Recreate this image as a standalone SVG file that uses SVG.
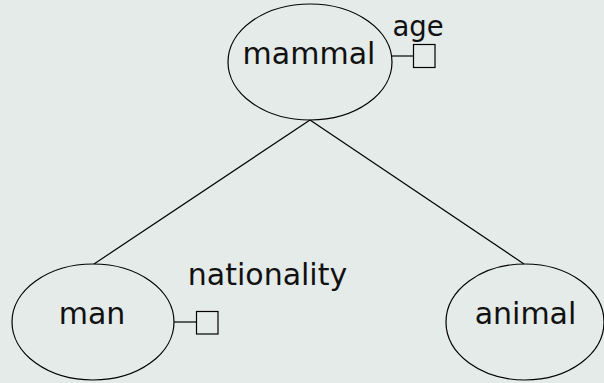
<svg xmlns="http://www.w3.org/2000/svg" width="604" height="383" viewBox="0 0 604 383">
<style>
.n{fill:none;stroke:#000;stroke-width:1.2}
.t{font-family:"DejaVu Sans",sans-serif;font-size:30px;fill:#111;text-anchor:middle}
.b{fill:none;stroke:#000;stroke-width:1.2}
</style>
<rect width="604" height="383" fill="#e4ebe8"/>
<g id="connectors">
<line class="n" x1="310" y1="120" x2="94" y2="264"/>
<line class="n" x1="310" y1="120" x2="524" y2="264"/>
<line class="n" x1="391" y1="56" x2="413" y2="56"/>
<line class="n" x1="174" y1="322" x2="196" y2="322"/>
</g>
<g id="mammal">
<ellipse class="n" cx="310" cy="62" rx="82" ry="58"/>
<text class="t" x="309" y="63.5">mammal</text>
</g>
<g id="age">
<rect class="b" x="413.5" y="44.5" width="21.5" height="23"/>
<text class="t" x="418" y="36" style="font-size:27.5px">age</text>
</g>
<g id="man">
<ellipse class="n" cx="93" cy="322" rx="81" ry="58"/>
<text class="t" x="92" y="323.5">man</text>
</g>
<g id="nationality">
<rect class="b" x="196.5" y="311.5" width="21.5" height="22.5"/>
<text class="t" x="267.5" y="284.5">nationality</text>
</g>
<g id="animal">
<ellipse class="n" cx="525" cy="322" rx="79" ry="58"/>
<text class="t" x="525.5" y="323.5">animal</text>
</g>
</svg>
